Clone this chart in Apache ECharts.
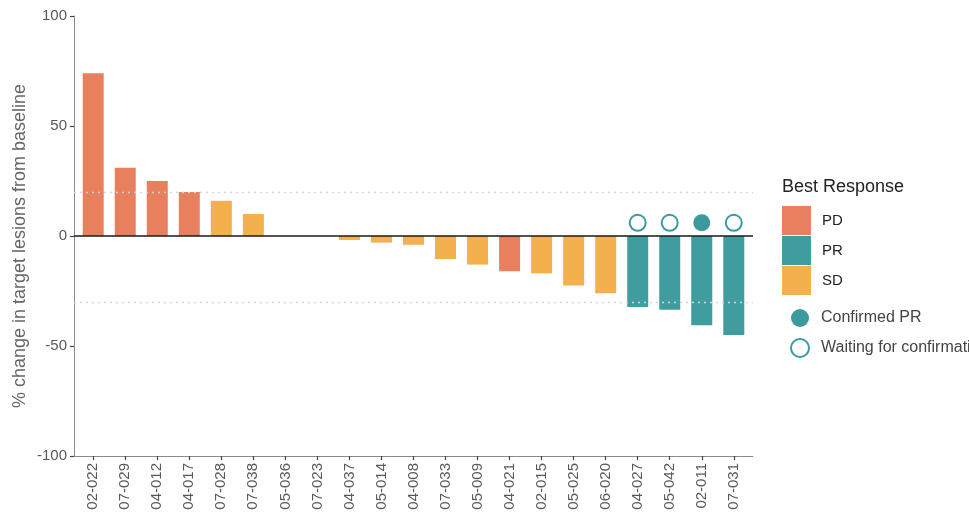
<!DOCTYPE html>
<html>
<head>
<meta charset="utf-8">
<script src="https://cdn.jsdelivr.net/npm/echarts@6/dist/echarts.min.js"></script>
<style>
  html, body { margin: 0; padding: 0; background: #fff; }
  #chart { width: 969px; height: 519px; }
</style>
</head>
<body>
<div id="chart"></div>
<script>
// Waterfall of best % change in target lesions, one bar per patient
const patients = ['02-022', '07-029', '04-012', '04-017', '07-028', '07-038', '05-036', '07-023',
  '04-037', '05-014', '04-008', '07-033', '05-009', '04-021', '02-015', '05-025', '06-020',
  '04-027', '05-042', '02-011', '07-031'];
const change = [74, 31, 25, 20, 16, 10, 0, 0, -1.8, -3, -4, -10.5, -13, -16, -17, -22.5, -26,
  -32.3, -33.5, -40.6, -45];
const response = ['PD', 'PD', 'PD', 'PD', 'SD', 'SD', 'SD', 'SD', 'SD', 'SD', 'SD', 'SD', 'SD',
  'PD', 'SD', 'SD', 'SD', 'PR', 'PR', 'PR', 'PR'];
const confirmation = [null, null, null, null, null, null, null, null, null, null, null, null,
  null, null, null, null, null, 'waiting', 'waiting', 'confirmed', 'waiting'];
const responseTypes = ['PD', 'PR', 'SD'];
const yTicks = [-100, -50, 0, 50, 100];
const referenceLines = [20, -30];
const markerLevel = 6;

const colors = { PD: '#E9805D', PR: '#3F9DA0', SD: '#F3B04C' };
const teal = '#3C9A9C';
const font = 'Liberation Sans, Arial, Helvetica, sans-serif';

const idx = patients.map((_, i) => i);

const barSeries = responseTypes.map((type, k) => ({
  name: type,
  type: 'bar',
  barWidth: 21,
  barGap: '-100%',
  itemStyle: { color: colors[type] },
  data: idx.filter(i => response[i] === type).map(i => [i, change[i]]),
  markLine: k === 0 ? {
    silent: true,
    symbol: 'none',
    label: { show: false },
    data: [
      ...referenceLines.map(v => ({ yAxis: v, lineStyle: { color: '#d6d6d6', type: [2, 4], width: 1.3 } })),
      { yAxis: 0, lineStyle: { color: '#1a1a1a', type: 'solid', width: 1.6 } }
    ]
  } : undefined,
  z: 2
}));

const confirmedSeries = {
  name: 'Confirmed PR',
  type: 'scatter',
  symbol: 'circle',
  symbolSize: 17,
  itemStyle: { color: teal, opacity: 1 },
  data: idx.filter(i => confirmation[i] === 'confirmed').map(i => [i, markerLevel]),
  z: 3
};
const waitingSeries = {
  name: 'Waiting for confirmation',
  type: 'scatter',
  symbol: 'circle',
  symbolSize: 16,
  itemStyle: { color: '#ffffff', borderColor: teal, borderWidth: 2, opacity: 1 },
  data: idx.filter(i => confirmation[i] === 'waiting').map(i => [i, markerLevel]),
  z: 3
};

const chart = echarts.init(document.getElementById('chart'), null, { renderer: 'canvas' });
chart.setOption({
  animation: false,
  backgroundColor: '#ffffff',
  textStyle: { fontFamily: font },
  title: {
    text: 'Best Response',
    left: 782,
    top: 178,
    padding: 0,
    textStyle: { fontFamily: font, fontSize: 18, fontWeight: 'normal', color: '#222' }
  },
  legend: [
    {
      data: responseTypes,
      orient: 'vertical',
      left: 782,
      top: 206,
      padding: 0,
      itemWidth: 29,
      itemHeight: 29,
      itemGap: 1,
      icon: 'rect',
      selectedMode: false,
      textStyle: { fontFamily: font, fontSize: 15, color: '#222', padding: [0, 0, 0, 6] }
    },
    {
      data: ['Confirmed PR', 'Waiting for confirmation'],
      orient: 'vertical',
      left: 790,
      top: 309,
      padding: 0,
      itemWidth: 18,
      itemHeight: 18,
      itemGap: 11,
      selectedMode: false,
      textStyle: { fontFamily: font, fontSize: 16, color: '#444', padding: [0, 0, 0, 7] }
    }
  ],
  grid: { left: 74, right: 216, top: 16, bottom: 63, containLabel: false, outerBoundsMode: 'none' },
  xAxis: {
    type: 'value',
    min: -0.6,
    max: patients.length - 0.4,
    splitLine: { show: false },
    axisLine: { onZero: false, lineStyle: { color: '#8a8a8a', width: 1 } },
    axisTick: {
      customValues: idx,
      length: 4,
      lineStyle: { color: '#444', width: 1.2 }
    },
    axisLabel: {
      customValues: idx,
      rotate: 90,
      margin: 7,
      fontFamily: font,
      fontSize: 15,
      color: '#595959',
      formatter: v => patients[Math.round(v)] || ''
    }
  },
  yAxis: {
    type: 'value',
    min: yTicks[0],
    max: yTicks[yTicks.length - 1],
    interval: yTicks[1] - yTicks[0],
    name: '% change in target lesions from baseline',
    nameLocation: 'middle',
    nameRotate: 90,
    nameGap: 45,
    nameMoveOverlap: false,
    nameTextStyle: { fontFamily: font, fontSize: 18, color: '#666', padding: [0, 20, 0, 0] },
    splitLine: { show: false },
    axisLine: { show: true, onZero: false, lineStyle: { color: '#8a8a8a', width: 1 } },
    axisTick: { show: true, length: 4, lineStyle: { color: '#444', width: 1.2 } },
    axisLabel: { fontFamily: font, fontSize: 15, color: '#595959', margin: 7 }
  },
  series: [...barSeries, confirmedSeries, waitingSeries]
});
</script>
</body>
</html>
